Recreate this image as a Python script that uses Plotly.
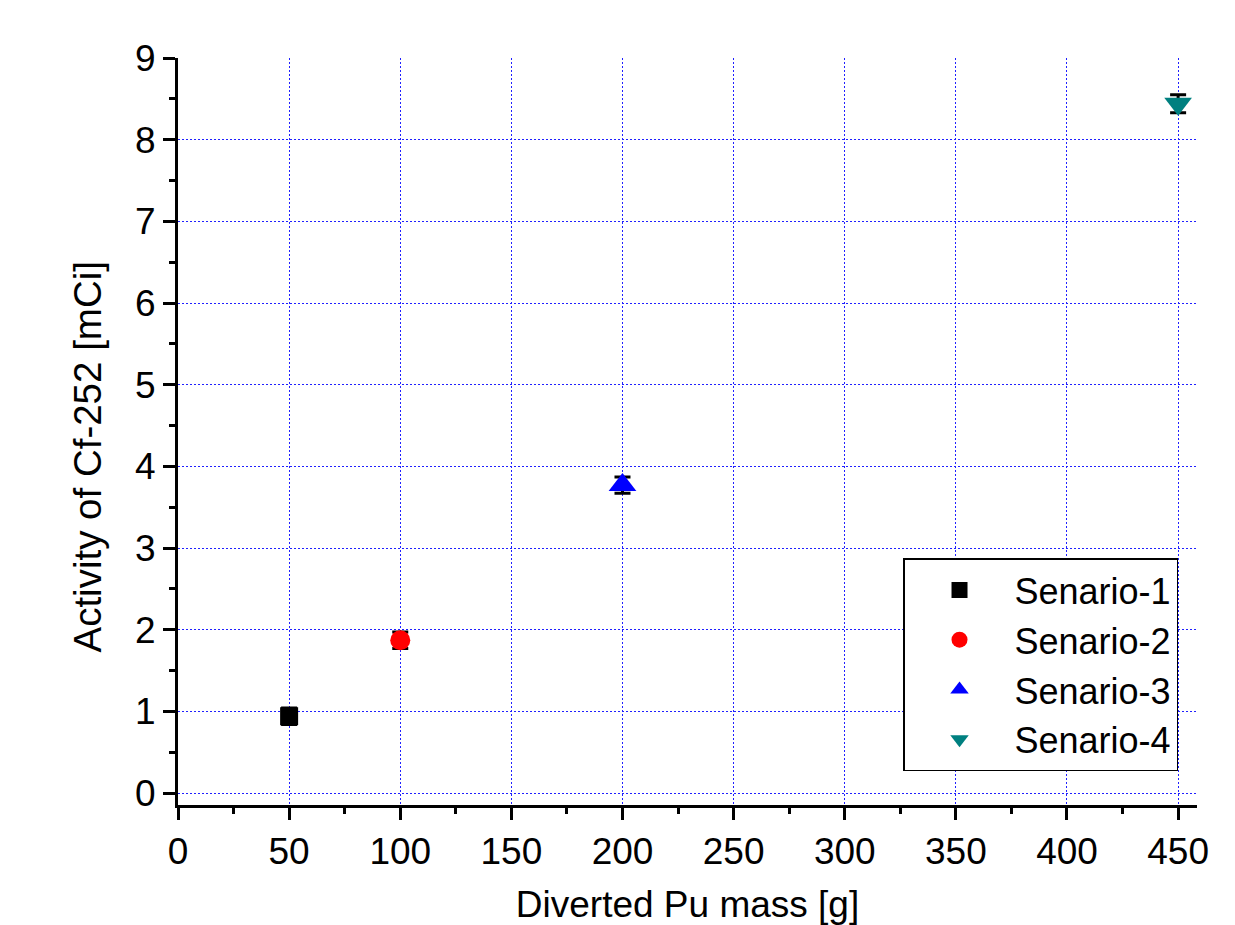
import plotly.graph_objects as go

names = ["Senario-1", "Senario-2", "Senario-3", "Senario-4"]
mass = [50, 100, 200, 450]
activity = [0.94, 1.87, 3.77, 8.44]
err = [0.1, 0.1, 0.1, 0.11]
colors = ["#000000", "#ff0000", "#0000ff", "#008080"]
symbols = ["square", "circle", "triangle-up", "triangle-down"]
sizes = [18, 20, 24, 24]

x_ticks = [0, 50, 100, 150, 200, 250, 300, 350, 400, 450]
y_ticks = [0, 1, 2, 3, 4, 5, 6, 7, 8, 9]

fig = go.Figure()
for n, x, y, e, c, s, sz in zip(names, mass, activity, err, colors, symbols, sizes):
    fig.add_trace(go.Scatter(
        x=[x], y=[y], name=n, mode="markers",
        marker=dict(symbol=s, color=c, size=sz, line=dict(width=0)),
        error_y=dict(type="data", array=[e], visible=True, color="black",
                     thickness=3, width=8),
    ))

font = "Liberation Sans, Arial, sans-serif"
fig.update_layout(
    width=1227, height=917,
    margin=dict(l=170, r=38, t=50, b=120),
    paper_bgcolor="white", plot_bgcolor="white",
    font=dict(family=font, color="black", size=36),
    showlegend=True,
    legend=dict(
        x=0.7115, y=0.33, xanchor="left", yanchor="top",
        bordercolor="black", borderwidth=1.5, bgcolor="white",
        font=dict(size=36, family=font), itemwidth=100,
        tracegroupgap=0,
    ),
    annotations=[dict(
        text="Activity of Cf-252 [mCi]", textangle=-90,
        xref="paper", yref="paper", x=-0.0883, y=0.4665,
        xanchor="center", yanchor="middle", showarrow=False,
        font=dict(size=38.5, family=font, color="black"),
    )],
)
grid_kw = dict(showgrid=True, gridcolor="#2020ff", griddash="2px,2px", gridwidth=1)
fig.update_xaxes(
    range=[0, 458.5], tickvals=x_ticks, ticktext=[str(v) for v in x_ticks],
    showline=True, linecolor="black", linewidth=3, mirror=False,
    ticks="outside", ticklen=12, tickwidth=3, tickcolor="black",
    minor=dict(dtick=25, ticks="outside", ticklen=6, tickwidth=3,
               tickcolor="black", showgrid=False),
    zeroline=False, automargin=False,
    tickfont=dict(size=37),
    title=dict(text="Diverted Pu mass [g]", font=dict(size=37), standoff=28),
    **grid_kw,
)
fig.update_yaxes(
    range=[-0.147, 9], tickvals=y_ticks, ticktext=[str(v) for v in y_ticks],
    showline=True, linecolor="black", linewidth=3, mirror=False,
    ticks="outside", ticklen=12, tickwidth=3, tickcolor="black",
    minor=dict(dtick=0.5, tick0=0, ticks="outside", ticklen=6, tickwidth=3,
               tickcolor="black", showgrid=False),
    zeroline=False, automargin=False,
    tickfont=dict(size=37),
    **grid_kw,
)

fig.write_html("out.html")
